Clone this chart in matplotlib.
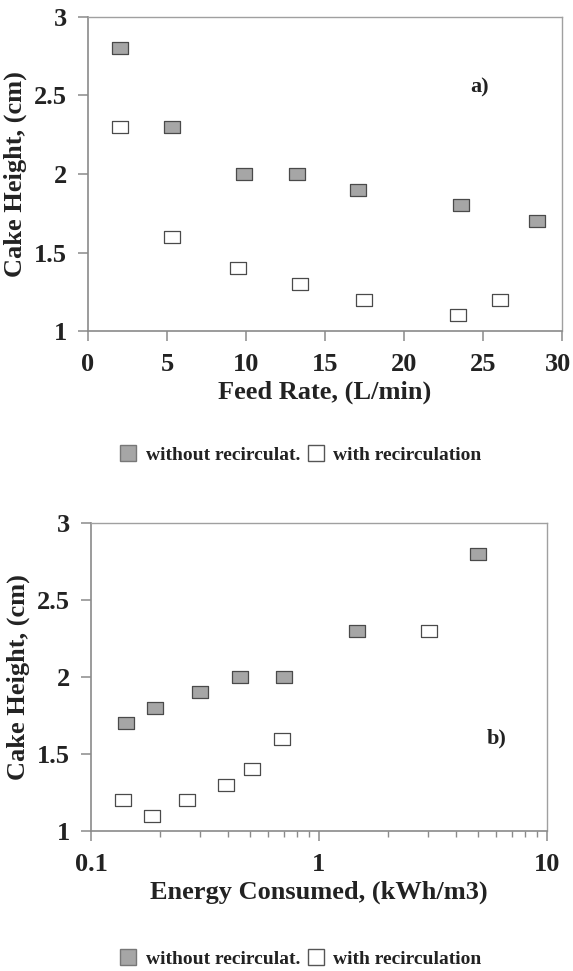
import matplotlib
matplotlib.use("Agg")
import matplotlib.pyplot as plt
import matplotlib.transforms as mtransforms
from matplotlib.lines import Line2D

# feed rate data, panel a
feed_wo = [2.0, 5.3, 9.9, 13.2, 17.1, 23.6, 28.4]
cake_wo_a = [2.8, 2.3, 2.0, 2.0, 1.9, 1.8, 1.7]
feed_w = [2.0, 5.3, 9.5, 13.4, 17.5, 23.4, 26.1]
cake_w_a = [2.3, 1.6, 1.4, 1.3, 1.2, 1.1, 1.2]

# energy data, panel b
energy_wo = [0.143, 0.19, 0.30, 0.45, 0.70, 1.47, 5.0]
cake_wo_b = [1.7, 1.8, 1.9, 2.0, 2.0, 2.3, 2.8]
energy_w = [0.138, 0.186, 0.264, 0.39, 0.51, 0.69, 3.03]
cake_w_b = [1.2, 1.1, 1.2, 1.3, 1.4, 1.6, 2.3]

labels = ["without recirculat.", "with recirculation"]

plt.rcParams['font.family'] = ['Liberation Serif', 'DejaVu Serif']
plt.rcParams['font.weight'] = 'bold'
txt = '#222222'
frame = '#8a8a8a'

# wide rectangle marker
rect = [(-1.3, -1), (1.3, -1), (1.3, 1), (-1.3, 1), (-1.3, -1)]
gray_kw = dict(marker=rect, s=125, facecolor='#a6a6a6', edgecolor='#4a4a4a', linewidths=0.9, zorder=3)
white_kw = dict(marker=rect, s=125, facecolor='white', edgecolor='#4a4a4a', linewidths=0.9, zorder=3)

fig = plt.figure(figsize=(5.73, 9.71), dpi=100)

def style(ax):
    for side in ['top', 'right']:
        ax.spines[side].set_color('#a0a0a0')
        ax.spines[side].set_linewidth(1.0)
    for side in ['left', 'bottom']:
        ax.spines[side].set_color(frame)
        ax.spines[side].set_linewidth(1.2)
    ax.tick_params(which='major', direction='out', length=7, width=1.1, color=frame,
                   labelsize=19, labelcolor=txt, top=False, right=False)
    ax.tick_params(axis='x', which='major', pad=9)
    ax.tick_params(axis='y', which='major', pad=8)
    ax.tick_params(which='minor', direction='out', length=4, width=1.0, color=frame, top=False, right=False)
    ax.set_ylim(1, 3)
    ax.set_yticks([1, 1.5, 2, 2.5, 3])
    ax.set_yticklabels(['1', '1.5', '2', '2.5', '3'])
    for lab in ax.get_xticklabels() + ax.get_yticklabels():
        lab.set_fontweight('bold')
    ax.set_ylabel('Cake Height, (cm)', fontsize=19, fontweight='bold', color=txt, labelpad=5)

def legend(y):
    handles = [
        Line2D([], [], linestyle='none', marker='s', markersize=11, markerfacecolor='#a6a6a6',
               markeredgecolor='#777777'),
        Line2D([], [], linestyle='none', marker='s', markersize=11, markerfacecolor='white',
               markeredgecolor='#555555'),
    ]
    fig.legend(handles, labels, loc='center', bbox_to_anchor=(0.525, y), ncol=2, frameon=False,
               prop={'size': 14, 'weight': 'bold'}, labelcolor=txt, handlelength=0.8,
               handletextpad=0.5, columnspacing=0.4)

# panel a
ax1 = fig.add_axes([0.1536, 0.6591, 0.827, 0.3234])
ax1.scatter(feed_wo, cake_wo_a, **gray_kw)
ax1.scatter(feed_w, cake_w_a, **white_kw)
ax1.set_xlim(0, 30)
ax1.set_xticks(range(0, 31, 5))
style(ax1)
# keep the last tick label inside the figure edge
last = ax1.get_xticklabels()[-1]
last.set_transform(last.get_transform() + mtransforms.ScaledTranslation(-4 / 100, 0, fig.dpi_scale_trans))
ax1.set_xlabel('Feed Rate, (L/min)', fontsize=19, fontweight='bold', color=txt, labelpad=3)
ax1.text(24.8, 2.55, 'a)', fontsize=16, fontweight='bold', color=txt, ha='center', va='center')
legend(0.531)

# panel b
ax2 = fig.add_axes([0.1588, 0.1442, 0.7958, 0.3172])
ax2.scatter(energy_wo, cake_wo_b, **gray_kw)
ax2.scatter(energy_w, cake_w_b, **white_kw)
ax2.set_xscale('log')
ax2.set_xlim(0.1, 10)
ax2.set_xticks([0.1, 1, 10])
ax2.set_xticklabels(['0.1', '1', '10'])
style(ax2)
ax2.set_xlabel('Energy Consumed, (kWh/m3)', fontsize=19, fontweight='bold', color=txt, labelpad=3)
ax2.text(6.0, 1.6, 'b)', fontsize=16, fontweight='bold', color=txt, ha='center', va='center')
legend(0.0125)

fig.savefig('out.png', dpi=100)
